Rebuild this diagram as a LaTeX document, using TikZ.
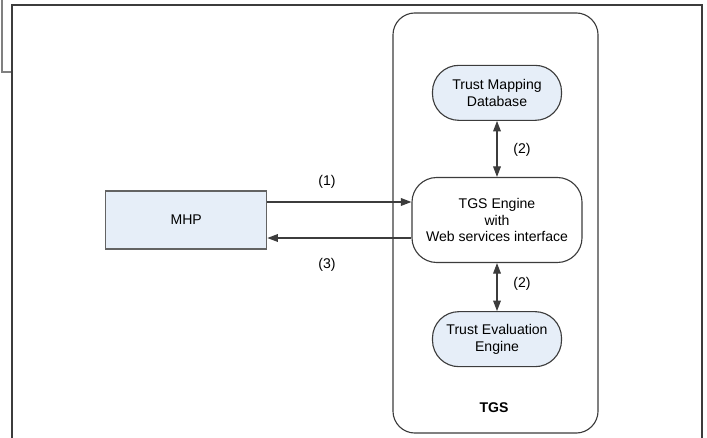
\documentclass[tikz,border=0pt]{standalone}
\usepackage{fontspec}
\setmainfont{Liberation Sans}
\usetikzlibrary{positioning,arrows.meta}

\definecolor{boxblue}{HTML}{E6EEF8}
\definecolor{framegray}{HTML}{3C3C3C}

\tikzset{
  store/.style={draw=framegray, fill=boxblue, line width=0.8pt, rounded corners=0.66cm,
    minimum width=3.225cm, minimum height=1.375cm, align=center, inner sep=1pt},
  engine/.style={draw=framegray, fill=white, line width=0.8pt, rounded corners=0.62cm,
    minimum width=4.25cm, minimum height=2.125cm, align=center, inner sep=1pt},
  client/.style={draw=framegray!80, fill=boxblue, line width=0.9pt,
    minimum width=4.025cm, minimum height=1.45cm},
  flow/.style={framegray, line width=0.8pt, -{Triangle[length=7.5pt,width=5.5pt]}},
  flowboth/.style={flow, {Triangle[length=7.5pt,width=5.5pt]}-{Triangle[length=7.5pt,width=5.5pt]}},
  steplabel/.style={inner sep=1pt},
}

\begin{document}
\begin{tikzpicture}[x=0.025cm, y=-0.025cm, font=\fontsize{10}{12}\selectfont]
    \useasboundingbox (0,0) rectangle (707,438);

    \draw[gray, line width=0.9pt] (2,0) |- (12,72);
    \draw[framegray, line width=1.4pt] (12,438) -- (12,5) -- (702,5) -- (702,438);

    \node [draw=framegray, line width=0.8pt, rounded corners=0.55cm,
      minimum width=5.125cm, minimum height=10.5cm] (tgs) at (495.5,223) {};
    \node [font=\fontsize{10}{12}\selectfont\bfseries] (tgslabel) at (494,408) {TGS};

    \node [engine] (engine) at (497,220) {TGS Engine\\with\\Web services interface};
    \node [store, above=1.4cm of engine] (mapdb) {Trust Mapping\\Database};
    \node [store, below=1.2cm of engine] (evalng) {Trust Evaluation\\Engine};
    \node [client, left=3.6cm of engine] (mhp) {MHP};

    \draw [flowboth] (mapdb) -- (engine);
    \draw [flowboth] (engine) -- (evalng);
    \draw [flow] ([yshift=0.45cm]mhp.east) -- ([yshift=0.45cm]engine.west);
    \draw [flow] ([yshift=-0.45cm]engine.west) -- ([yshift=-0.45cm]mhp.east);

    \node [steplabel] (lbl1) at (327,182) {(1)};
    \node [steplabel] (lbl3) at (327,265) {(3)};
    \node [steplabel] (lbl2a) at (522,150) {(2)};
    \node [steplabel] (lbl2b) at (522,284) {(2)};
\end{tikzpicture}
\end{document}
